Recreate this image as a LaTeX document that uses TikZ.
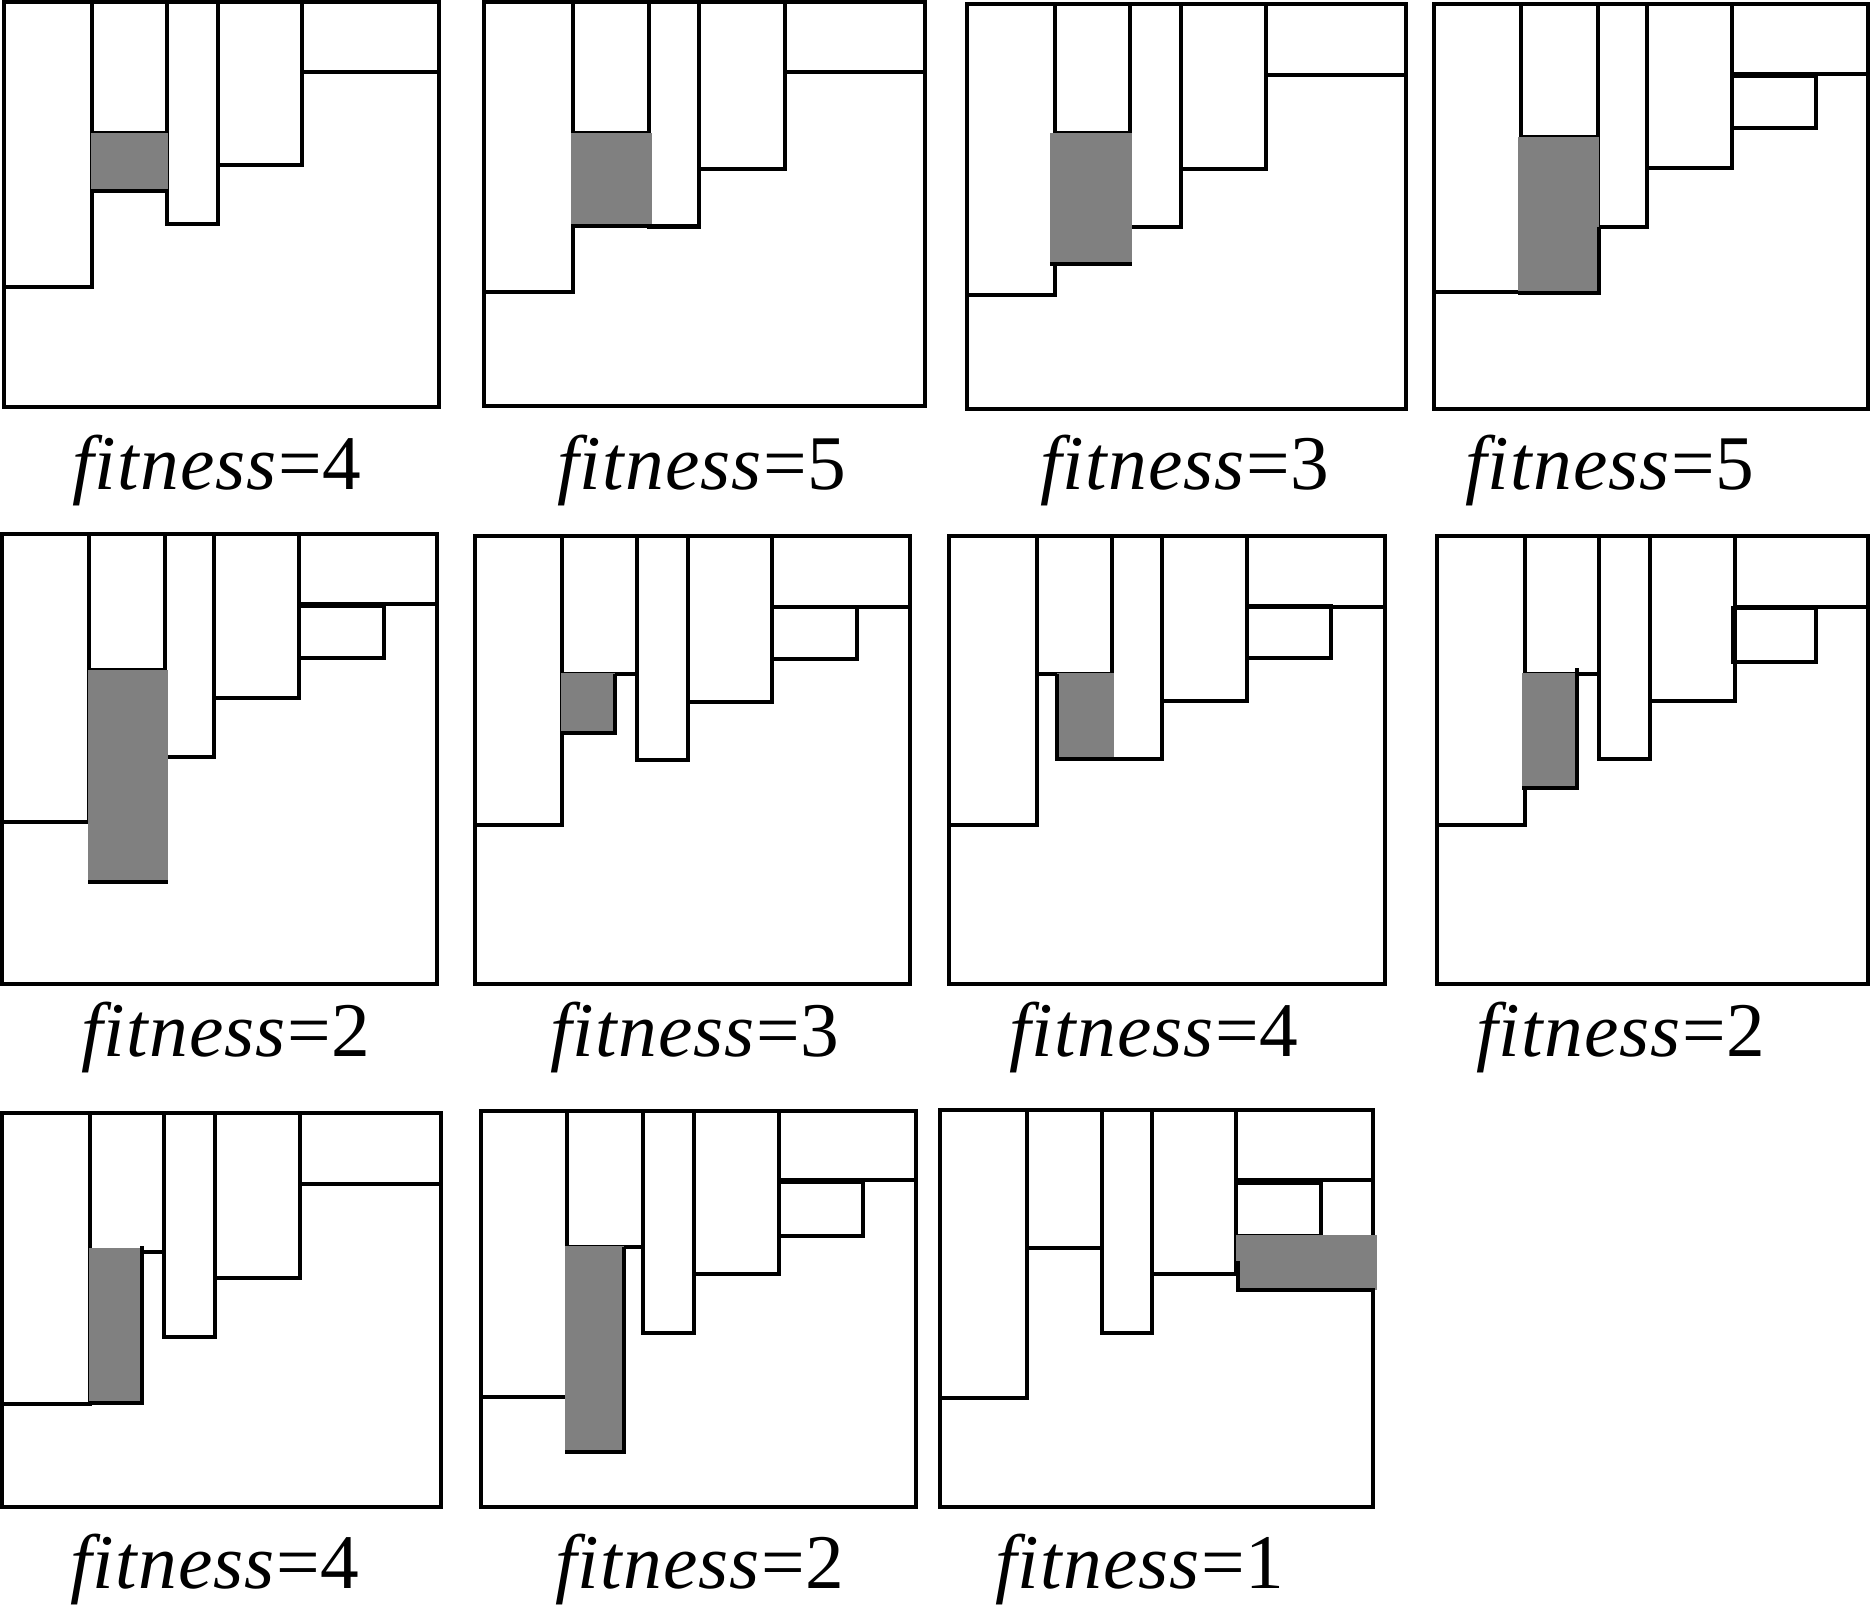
\documentclass[tikz,border=0pt]{standalone}
\usepackage{fontspec}
\setmainfont{Liberation Serif}[LetterSpace=1.5]
\definecolor{piecegray}{RGB}{128,128,128}
\tikzset{
  piece/.style={draw=black, line width=0.9pt},
  placed/.style={fill=piecegray},
  fitlabel/.style={anchor=base, inner sep=0pt, font=\fontsize{22pt}{26pt}\selectfont}
}
\begin{document}
\begin{tikzpicture}[x=0.01cm, y=-0.01cm]
\useasboundingbox (0,0) rectangle (1870,1612);
% row 1
\draw[piece] (4,2) rectangle (439,407);
\draw[piece] (4,2) rectangle (92,287);
\draw[piece] (92,2) rectangle (167,133);
\draw[piece] (167,2) rectangle (218,224);
\draw[piece] (218,2) rectangle (302,165);
\draw[piece] (302,2) rectangle (439,72);
\fill[placed] (91,133) rectangle (168,191);
\draw[piece] (91,191) -- (168,191);
\node[fitlabel] (l1) at (217,489) {\textit{fitness}=4};

\draw[piece] (484,2) rectangle (925,406);
\draw[piece] (484,2) rectangle (573,292);
\draw[piece] (573,2) rectangle (649,133);
\draw[piece] (649,2) rectangle (699,227);
\draw[piece] (699,2) rectangle (785,169);
\draw[piece] (785,2) rectangle (925,72);
\fill[placed] (571,133) rectangle (652,226);
\draw[piece] (571,226) -- (699,226);
\node[fitlabel] (l2) at (702,489) {\textit{fitness}=5};

\draw[piece] (967,4) rectangle (1406,409);
\draw[piece] (967,4) rectangle (1055,295);
\draw[piece] (1055,4) rectangle (1130,133);
\draw[piece] (1130,4) rectangle (1181,227);
\draw[piece] (1181,4) rectangle (1266,169);
\draw[piece] (1266,4) rectangle (1406,75);
\fill[placed] (1050,133) rectangle (1132,264);
\draw[piece] (1050,264) -- (1132,264);
\node[fitlabel] (l3) at (1185,489) {\textit{fitness}=3};

\draw[piece] (1434,4) rectangle (1868,409);
\draw[piece] (1434,4) rectangle (1521,292);
\draw[piece] (1521,4) rectangle (1598,137);
\draw[piece] (1598,4) rectangle (1647,227);
\draw[piece] (1647,4) rectangle (1732,168);
\draw[piece] (1732,4) rectangle (1868,74);
\draw[piece] (1732,76) rectangle (1816,128);
\fill[placed] (1518,137) rectangle (1599,293);
\draw[piece] (1518,293) -- (1599,293) -- (1599,227);
\node[fitlabel] (l4) at (1610,489) {\textit{fitness}=5};

% row 2
\draw[piece] (2,534) rectangle (437,984);
\draw[piece] (2,534) rectangle (89,822);
\draw[piece] (89,534) rectangle (165,670);
\draw[piece] (165,534) rectangle (214,757);
\draw[piece] (214,534) rectangle (299,698);
\draw[piece] (299,534) rectangle (437,604);
\draw[piece] (299,606) rectangle (384,658);
\fill[placed] (88,670) rectangle (168,882);
\draw[piece] (88,882) -- (168,882);
\node[fitlabel] (l5) at (226,1056) {\textit{fitness}=2};

\draw[piece] (475,536) rectangle (910,984);
\draw[piece] (475,536) rectangle (562,825);
\draw[piece] (562,536) rectangle (637,674);
\draw[piece] (637,536) rectangle (688,760);
\draw[piece] (688,536) rectangle (772,702);
\draw[piece] (772,536) rectangle (910,607);
\draw[piece] (772,607) rectangle (857,659);
\fill[placed] (561,673) rectangle (615,733);
\draw[piece] (561,733) -- (615,733) -- (615,674);
\node[fitlabel] (l6) at (695,1056) {\textit{fitness}=3};

\draw[piece] (949,536) rectangle (1385,984);
\draw[piece] (949,536) rectangle (1037,825);
\draw[piece] (1037,536) rectangle (1112,674);
\draw[piece] (1112,536) rectangle (1162,759);
\draw[piece] (1162,536) rectangle (1247,701);
\draw[piece] (1247,536) rectangle (1385,607);
\draw[piece] (1247,606) rectangle (1331,658);
\fill[placed] (1057,673) rectangle (1114,759);
\draw[piece] (1057,674) -- (1057,759) -- (1162,759);
\node[fitlabel] (l7) at (1154,1056) {\textit{fitness}=4};

\draw[piece] (1437,536) rectangle (1868,984);
\draw[piece] (1437,536) rectangle (1525,825);
\draw[piece] (1525,536) rectangle (1599,674);
\draw[piece] (1599,536) rectangle (1650,759);
\draw[piece] (1650,536) rectangle (1735,701);
\draw[piece] (1735,536) rectangle (1868,607);
\draw[piece] (1733,608) rectangle (1816,662);
\fill[placed] (1522,673) rectangle (1577,788);
\draw[piece] (1522,788) -- (1577,788) -- (1577,668);
\node[fitlabel] (l8) at (1621,1056) {\textit{fitness}=2};

% row 3
\draw[piece] (2,1113) rectangle (441,1507);
\draw[piece] (2,1113) rectangle (90,1404);
\draw[piece] (90,1113) rectangle (164,1252);
\draw[piece] (164,1113) rectangle (215,1337);
\draw[piece] (215,1113) rectangle (300,1278);
\draw[piece] (300,1113) rectangle (441,1184);
\fill[placed] (89,1248) rectangle (142,1403);
\draw[piece] (89,1403) -- (142,1403) -- (142,1246);
\node[fitlabel] (l9) at (215,1588) {\textit{fitness}=4};

\draw[piece] (481,1111) rectangle (916,1507);
\draw[piece] (481,1111) rectangle (567,1397);
\draw[piece] (567,1111) rectangle (643,1247);
\draw[piece] (643,1111) rectangle (694,1333);
\draw[piece] (694,1111) rectangle (779,1274);
\draw[piece] (779,1111) rectangle (916,1180);
\draw[piece] (779,1182) rectangle (863,1236);
\fill[placed] (565,1246) rectangle (624,1452);
\draw[piece] (565,1452) -- (624,1452) -- (624,1247);
\node[fitlabel] (l10) at (700,1588) {\textit{fitness}=2};

\draw[piece] (940,1110) rectangle (1373,1507);
\draw[piece] (940,1110) rectangle (1027,1398);
\draw[piece] (1027,1110) rectangle (1102,1248);
\draw[piece] (1102,1110) rectangle (1152,1333);
\draw[piece] (1152,1110) rectangle (1236,1274);
\draw[piece] (1236,1110) rectangle (1373,1180);
\draw[piece] (1236,1183) rectangle (1321,1236);
\fill[placed] (1236,1235) rectangle (1377,1290);
\draw[piece] (1238,1261) -- (1238,1290) -- (1375,1290);
\node[fitlabel] (l11) at (1140,1588) {\textit{fitness}=1};
\end{tikzpicture}
\end{document}
